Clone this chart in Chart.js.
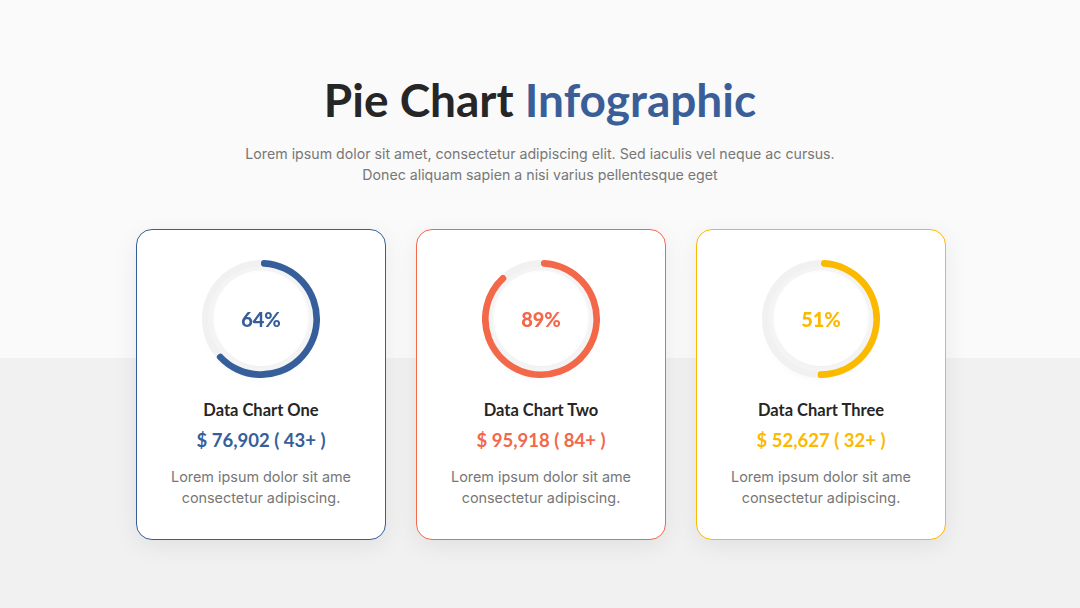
<!DOCTYPE html>
<html lang="en">
<head>
<meta charset="UTF-8">
<title>Pie Chart Infographic</title>
<script src="https://cdn.jsdelivr.net/npm/chart.js"></script>
<style>
  html, body { margin: 0; padding: 0; }
  body {
    width: 1080px; height: 608px; overflow: hidden; position: relative;
    background: linear-gradient(to bottom, #fafafa 0, #fafafa 358px, #f1f1f1 358px, #f1f1f1 100%);
    font-family: Lato, sans-serif;
  }
  h1 {
    position: absolute; left: 0; width: 1080px; top: 70px; margin: 0;
    text-align: center; font-size: 46px; font-weight: 700; color: #262626; line-height: 60px;
  }
  h1 span { color: #3a5f98; }
  .sub {
    position: absolute; left: 0; width: 1080px; top: 143px;
    text-align: center; font-family: Inter, sans-serif; font-size: 14.2px; line-height: 21px; color: #777;
  }
  .card {
    position: absolute; top: 229px; width: 248px; height: 309px;
    background: #fff; border: 1px solid; border-radius: 16px;
    box-shadow: 0 6px 24px rgba(0,0,0,0.07);
  }
  .ring { position: absolute; left: 65px; top: 30px; width: 118px; height: 118px; }
  .ring .glow {
    position: absolute; left: 12px; top: 12px; width: 94px; height: 94px; border-radius: 50%;
    background: #fff; box-shadow: 0 8px 16px rgba(0,0,0,0.07);
  }
  .ring canvas { position: absolute; left: 0; top: 0; }
  .ring .pct {
    position: absolute; left: 0; top: 0; width: 118px; line-height: 118px; text-align: center;
    font-size: 20px; font-weight: 900;
  }
  .name { position: absolute; top: 170px; width: 100%; text-align: center; font-size: 16.5px; font-weight: 700; color: #262626; }
  .amt { position: absolute; top: 199px; width: 100%; text-align: center; font-size: 18.5px; font-weight: 700; }
  .desc {
    position: absolute; top: 236px; width: 100%; text-align: center;
    font-family: Inter, sans-serif; font-size: 14.4px; line-height: 21px; color: #777;
  }
</style>
</head>
<body>

<h1>Pie Chart <span>Infographic</span></h1>
<div class="sub">Lorem ipsum dolor sit amet, consectetur adipiscing elit. Sed iaculis vel neque ac cursus.<br>Donec aliquam sapien a nisi varius pellentesque eget</div>

<div id="cards"></div>

<script>
    const names = ['Data Chart One', 'Data Chart Two', 'Data Chart Three'];
    const percents = [64, 89, 51];
    const amounts = ['$ 76,902', '$ 95,918', '$ 52,627'];
    const counts = ['43+', '84+', '32+'];
    const colors = ['#365e9b', '#f26849', '#fbb900'];
    const cardLeft = [136, 416, 696];

    const wrap = document.getElementById('cards');

    names.forEach((name, i) => {
        const card = document.createElement('div');
        card.className = 'card';
        card.style.left = cardLeft[i] + 'px';
        card.style.borderColor = colors[i];
        card.innerHTML =
            '<div class="ring"><div class="glow"></div><canvas width="118" height="118"></canvas>' +
            '<div class="pct" style="color:' + colors[i] + '">' + percents[i] + '%</div></div>' +
            '<div class="name">' + name + '</div>' +
            '<div class="amt" style="color:' + colors[i] + '">' + amounts[i] + ' ( ' + counts[i] + ' )</div>' +
            '<div class="desc">Lorem ipsum dolor sit ame<br>consectetur adipiscing.</div>';
        wrap.appendChild(card);

        const ctx = card.querySelector('canvas').getContext('2d');
        new Chart(ctx, {
            type: 'doughnut',
            data: {
                labels: ['value', 'rest'],
                datasets: [{
                    data: [percents[i], 100 - percents[i]],
                    backgroundColor: [colors[i], '#f1f1f1'],
                    borderWidth: 0,
                    borderRadius: [3, 0],
                    weight: 5
                }, {
                    data: [100],
                    backgroundColor: ['#f4f4f4'],
                    borderWidth: 0,
                    weight: 3
                }]
            },
            options: {
                responsive: false,
                animation: false,
                cutout: '82%',
                layout: { padding: 0 },
                plugins: { legend: { display: false }, tooltip: { enabled: false } }
            }
        });
    });
</script>
</body>
</html>
